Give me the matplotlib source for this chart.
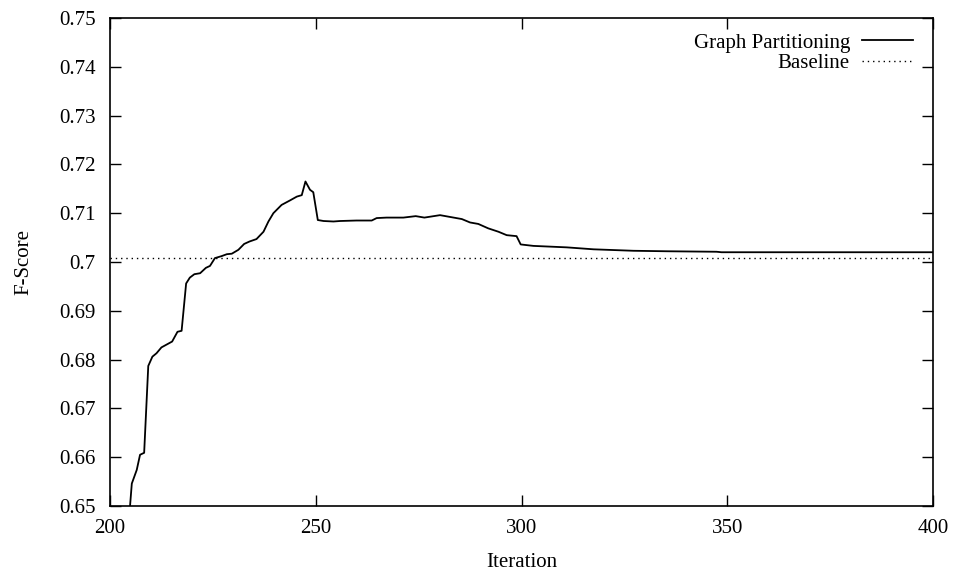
import matplotlib
matplotlib.use("Agg")
import matplotlib.pyplot as plt
from matplotlib.ticker import FuncFormatter, MultipleLocator

iterations = [204.4, 205.3, 206.5, 207.3, 208.3, 209.3, 210.3, 211.3, 212.5, 213.8,
              215.1, 216.4, 217.4, 218.5, 219.4, 220.5, 221.9, 223.3, 224.3, 225.5,
              227.1, 228.4, 229.6, 231.2, 232.6, 233.9, 235.6, 237.3, 238.5, 239.7,
              241.7, 243.7, 245.4, 246.6, 247.5, 248.6, 249.4, 250.5, 251.9, 254.3,
              255.9, 259.9, 263.6, 264.8, 267.2, 271.3, 274.3, 276.4, 280.2, 285.5,
              287.5, 289.5, 291.9, 294.4, 296.4, 298.8, 299.8, 302.9, 311.0, 317.5,
              327.2, 335.3, 347.4, 348.6, 400.0]
fscore = [0.6450, 0.6546, 0.6574, 0.6605, 0.6609, 0.6787, 0.6806, 0.6813, 0.6825, 0.6831,
          0.6837, 0.6857, 0.6859, 0.6956, 0.6968, 0.6975, 0.6977, 0.6988, 0.6992, 0.7008,
          0.7012, 0.7016, 0.7017, 0.7025, 0.7037, 0.7042, 0.7047, 0.7062, 0.7083, 0.7100,
          0.7117, 0.7126, 0.7134, 0.7137, 0.7165, 0.7148, 0.7143, 0.7086, 0.7084, 0.7083,
          0.7084, 0.7085, 0.7085, 0.7090, 0.7091, 0.7091, 0.7094, 0.7091, 0.7096, 0.7088,
          0.7081, 0.7078, 0.7069, 0.7062, 0.7055, 0.7053, 0.7036, 0.7033, 0.7030, 0.7026,
          0.7023, 0.7022, 0.7021, 0.7020, 0.7020]
baseline_value = 0.7008
x_range = [200, 400]
y_range = [0.65, 0.75]

plt.rcParams['font.family'] = ['Liberation Serif', 'DejaVu Serif']
fig = plt.figure(figsize=(9.6, 5.71), dpi=100)
ax = fig.add_axes([110/960, 1-506/571, 823/960, 488/571])

ax.plot(iterations, fscore, color='black', lw=1.3, label='Graph Partitioning')
ax.axhline(baseline_value, color='black', lw=1.0, linestyle=(0, (1, 2.8)), label='Baseline')

ax.set_xlim(*x_range)
ax.set_ylim(*y_range)
ax.xaxis.set_major_locator(MultipleLocator(50))
ax.yaxis.set_major_locator(MultipleLocator(0.01))
ax.yaxis.set_major_formatter(FuncFormatter(lambda v, p: '%g' % round(v, 4)))
ax.tick_params(direction='in', length=8, width=1, top=True, right=True, labelsize=15)
ax.tick_params(axis='x', pad=9.5)
ax.tick_params(axis='y', pad=10.5)
for s in ax.spines.values():
    s.set_linewidth(1.2)

ax.set_xlabel('Iteration', fontsize=15, labelpad=11)
ax.set_ylabel('F-Score', fontsize=15, labelpad=18)

leg = ax.legend(loc='upper right', bbox_to_anchor=(0.9757, 0.969), frameon=False,
                markerfirst=False, alignment='right', fontsize=15,
                handlelength=2.45, handletextpad=0.58, labelspacing=0.05,
                borderpad=0, borderaxespad=0)

fig.savefig('out.png', dpi=100)
